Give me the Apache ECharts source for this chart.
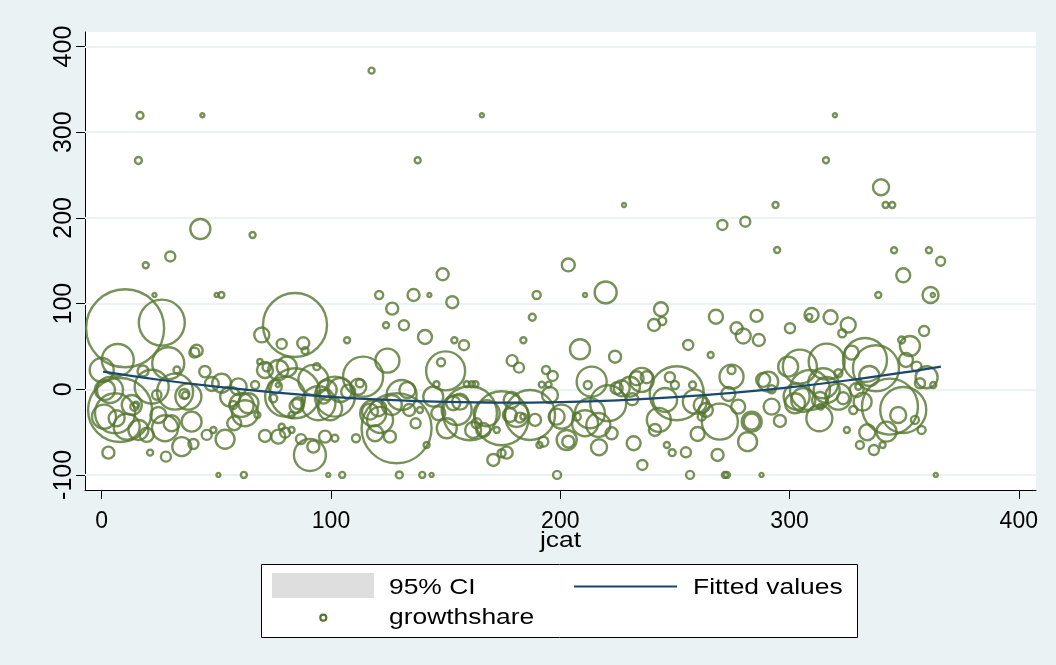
<!DOCTYPE html>
<html><head><meta charset="utf-8">
<script src="https://cdn.jsdelivr.net/npm/echarts@6/dist/echarts.min.js"></script>
<style>html,body{margin:0;padding:0;background:#eaf2f3}#c{width:1056px;height:665px}</style>
</head><body><div id="c"></div>
<script>
// ---- data ----
const jcat = [
16.7,43.9,16,43,65.8,19.2,29.9,23,50.1,52.2,
117.7,137.8,165.8,203.5,148.7,121,136,142.9,152.9,126.7,
189.7,187.8,124,131.8,141,107,153.8,158,183.9,179,
182,193.8,196.7,191.9,194.9,227.8,293.9,270.7,280.7,294.6,
210.8,219.8,243.9,244.5,240.9,267.9,285.6,276.9,279.8,286.6,
300.2,208.6,223.9,255.8,265.6,319.8,315.9,339.9,341.9,344.8,
345.6,360.8,365.9,349.6,338.7,361.5,362.5,309.6,308.6,317.9,
325.6,323,358.7,352.5,348.9,350.8,355.4,359.8,362.7,356.9,
10.2,26.2,84.3,69.8,78.5,87.9,88.7,41.4,40.4,7,
0,29,32.8,18,45,77,72,69,80.7,93.8,
92.3,48,52.3,59.6,66.9,75.6,84.3,80,94.5,74.8,
85,3.6,21.8,32,37.8,36,36.5,24,8,5.8,
13.1,14.2,15,1.4,1,6.5,10.9,16,19.6,24.7,
30.5,27.6,39.2,45.8,48.7,53.8,34.9,40,2.9,21.1,
28,50.9,62,56,61,64,57.4,62.5,57.8,67.9,
71.2,77,80,82.8,86.9,90.8,92.3,78.5,71.2,76.8,
85.7,82.8,114,124.6,150,148,146,159.2,161.4,163,
101.7,98.1,104,111.9,112.6,107.5,99.6,96.7,97.4,101.7,
110.9,128.6,118.4,121.4,117,120.6,119.2,125.7,126.5,130.8,
133.3,134.1,136.9,138.8,141.7,144.6,146.8,150.5,154.8,153.3,
156.3,160.6,162,166.4,163.5,174.4,167.9,172.3,178.8,181,
178,182.4,183.9,189,186.8,195.5,198.4,192.6,190.9,176.6,
174.4,170.8,198.6,98.8,104.9,129.8,139.8,143.9,213.7,212,
235.5,233.3,237.7,226.8,230.4,231.4,250.8,247.8,250,257.7,
245.7,243,241.3,258.7,261.7,263.5,261.7,269.6,274.7,274.7,
273.3,277.6,283.5,283.5,281.7,268.6,259.9,254.8,248.8,246.5,
232,235.8,256.6,271.8,272.7,287.8,200.6,202.8,203.5,210.8,
212.9,220.9,216.6,216.9,222.4,207.2,224.6,290.7,288.5,292.2,
295.8,292.2,299.4,316.2,332.9,337.7,327.1,334.8,321.3,304.5,
308.9,303.1,306,314.7,316.2,313.3,302.4,323.4,321.3,313,
313.6,329.3,331.9,327.8,330,343.8,349.6,347.4,354.7,357.6,
342.3,333.9,325,330.7,336.8,340.6,363.8
];
const growthshare = [
319.5,319.8,267,187,180,144.7,155,110,110,110,
371.9,267.3,319.8,145.1,134.2,110,110,110,101.6,94.1,
110,84,74.7,74.7,61,57.2,57.2,51.4,57.2,33.4,
25.2,22.5,15.5,5.4,5.4,215.1,215.1,191.8,195.6,162.6,
110,113,93.4,79.7,75,84.7,85.6,71.2,62.2,57.5,
71.2,46.7,38,51.7,40,319.8,267.3,235.8,215.1,215.1,
162.2,162.2,149.4,133,110,110,110,86.7,84.5,84,
75,65.4,68,50.5,57.5,34.2,26.4,14,5,7,
71.2,77.8,75,63.4,52.9,53.7,45,45,42.7,34.2,
22.5,30.3,22.5,21.4,20.5,22.5,25.7,32.2,26.4,26.4,
10.9,6.2,7,3,5,3,-4.7,-8.6,-16.3,-10.5,
-19.5,-0.8,3,-2.8,-8.6,-5.5,-7,-6.7,-24.2,-28,
-18.3,-20.3,-18,-0.8,-32,-33.9,-43.7,-47.5,-53.3,-30,
-39.7,-45.5,-37.8,-53.3,-47.5,-58.4,-67,-63.9,-74,-74,
-78.7,-100,-100,-8.6,-18.3,-16.3,-18.3,-28,-39.7,-30,
-54.5,-55.3,-50.7,-47.5,-58.2,-76.7,-67,-43.7,22.5,5,
-16.3,-30,14.7,33.4,21.4,31.5,5.8,5.8,5.8,5.8,
-8.6,-0.8,-0.8,3,7,-2.8,-22.2,-8.6,-55.3,-57.2,
-57.2,-45.5,-28,-35.8,-26.1,-22.2,-51.4,-55.3,-18.3,-6.7,
-0.8,-24.2,-39.7,-24.2,-65,-8.6,-28,-45.5,-24.2,-16.3,
-14.5,-28,-47.5,-47.5,-39.7,-33.9,-28,-47.5,-12.5,-30,
-30,-33.1,-32,-35.8,-30,-6.7,-32,-61.2,-65,-74,
-74.7,-82.5,-100,-100,-100,-100,-100,-100,8.9,5,
10.9,12.8,14,1.2,3,-11.7,-4.7,14,5,5,
-12.5,-35.8,-47.5,-14.5,-18.3,-24.2,-32,-37.8,14.7,22.5,
-5.5,-20.3,-37.8,-37.8,-61.2,-76.7,-52.2,-73.6,-74,-65,
-63,-88.4,-100,-100,-100,-100,-32,-59.2,-61.2,-39.7,
-28,-16.3,-41.7,-67.7,-51.4,-32,1.2,8.9,10.9,-20.3,
-37,0,26.4,32.2,34.2,24.5,42.7,15.5,18.7,26.4,
-0.8,-8.6,-12.5,7,-0.8,-12.5,-16.3,-10.5,-8.6,-33.9,
-20.3,-0.8,-14.5,-24.2,3,-20.3,-24.2,-30,-35.8,-47.5,
-49.5,-50.2,-47.5,-65,-70.9,-65,-100
];
const weight = [
12,4,12,100,9,9,25,4,4,9,
9,9,4,42,36,16,36,4,36,36,
16,12,9,25,49,9,9,25,9,30,
25,16,25,9,9,4,9,25,25,9,
4,121,49,16,36,49,36,36,56,36,
25,100,36,25,9,4,9,64,9,9,
9,9,20,49,9,64,4,49,9,49,
56,16,25,100,12,49,25,121,9,25,
1521,529,1024,56,25,36,12,36,25,256,
144,256,12,30,32,100,18,7,100,12,
225,49,90,69,16,45,625,400,289,16,
49,169,289,324,169,25,12,22,1024,400,
100,16,9,100,144,64,169,100,49,64,
64,169,100,25,9,90,90,25,36,9,
25,4,9,100,144,100,16,169,49,9,
36,49,25,9,25,256,36,9,64,4,
36,9,400,144,380,16,9,9,9,9,
400,100,144,64,16,49,144,49,36,12,
16,1225,169,169,64,64,64,36,100,225,
64,36,25,9,9,100,49,100,225,49,
64,729,64,49,25,729,169,9,64,144,
49,25,9,36,625,64,64,25,9,36,
16,36,16,4,9,12,9,4,225,16,
144,49,36,64,100,36,729,25,16,12,
144,144,36,144,64,49,16,324,144,16,
49,49,100,64,90,36,49,25,12,9,
49,25,16,9,9,4,144,100,36,169,
225,324,144,64,36,16,36,100,49,64,
36,16,100,324,484,529,49,100,16,289,
400,169,144,225,169,64,100,36,169,169,
9,49,81,16,9,784,529,64,16,16,
100,64,9,16,25,9,4
];
const fitX = [0.6,25,50,75,100,125,150,175,200,225,250,275,300,325,350,366];
const fitY = [20.6,11.1,3.0,-3.6,-8.8,-12.5,-14.8,-15.7,-15.0,-12.9,-9.3,-4.3,2.2,10.2,19.6,26.4];
const xTicks = [0,100,200,300,400];
const yTicks = [-100,0,100,200,300,400];
const xTitle = 'jcat';
const legendNames = ['95% CI','Fitted values','growthshare'];

// ---- styling ----
const GREEN = '#55752f', NAVY = '#1a476f', BG = '#eaf2f3';
const FONT = 'Liberation Sans, Arial, sans-serif';

const chart = echarts.init(document.getElementById('c'), null, {renderer:'canvas'});
const scatterData = jcat.map((x,i)=>[x, growthshare[i], weight[i]]);
const fitData = fitX.map((x,i)=>[x, fitY[i]]);

const option = {
  animation:false,
  backgroundColor: BG,
  grid:{left:85,right:20,top:32,bottom:175,show:true,backgroundColor:'#fff',borderWidth:0,containLabel:false},
  xAxis:{type:'value',min:-7.3,max:407.5,
    axisLine:{show:true,onZero:false,lineStyle:{color:'#000',width:1}},
    axisTick:{show:true,customValues:xTicks,length:9,lineStyle:{color:'#000'}},
    axisLabel:{show:true,customValues:xTicks,margin:20,fontSize:23,color:'#000',fontFamily:FONT},
    splitLine:{show:false}},
  yAxis:{type:'value',min:-117.6,max:417,
    axisLine:{show:true,onZero:false,lineStyle:{color:'#000',width:1}},
    axisTick:{show:true,customValues:yTicks,length:9,lineStyle:{color:'#000'}},
    axisLabel:{show:true,customValues:yTicks,rotate:90,margin:8,fontSize:25,color:'#000',fontFamily:FONT},
    splitLine:{show:false}},
  series:[
    {type:'scatter',name:legendNames[2],data:scatterData,z:2,clip:false,
      symbol:'circle',symbolSize:v=>2*Math.sqrt(v[2]),
      itemStyle:{color:'rgba(0,0,0,0)',borderColor:GREEN,borderWidth:2.4},
      emphasis:{disabled:true}},
    {type:'line',name:legendNames[1],data:fitData,z:3,smooth:0.4,showSymbol:false,symbol:'none',
      lineStyle:{color:NAVY,width:2.2},
      markLine:{silent:true,symbol:'none',z:1,label:{show:false},
        lineStyle:{color:BG,width:2,type:'solid'},
        data:yTicks.map(v=>({yAxis:v}))}}
  ],
  graphic:[
    {type:'rect',shape:{x:261.5,y:564.5,width:596,height:73},style:{fill:'#fff',stroke:'#000',lineWidth:1},z:10},
    {type:'rect',shape:{x:272,y:573,width:102,height:25},style:{fill:'#dedede'},z:11},
    {type:'text',x:389,y:588,scaleX:1.2,style:{text:legendNames[0],x:0,y:0,fontSize:22,fontFamily:FONT,fill:'#000',verticalAlign:'middle'},z:11},
    {type:'line',shape:{x1:574,y1:586.5,x2:677,y2:586.5},style:{stroke:NAVY,lineWidth:2},z:11},
    {type:'text',x:693,y:588,scaleX:1.2,style:{text:legendNames[1],x:0,y:0,fontSize:22,fontFamily:FONT,fill:'#000',verticalAlign:'middle'},z:11},
    {type:'circle',shape:{cx:323.3,cy:617.7,r:3},style:{fill:'none',stroke:GREEN,lineWidth:2.2},z:11},
    {type:'text',x:389,y:618,scaleX:1.2,style:{text:legendNames[2],x:0,y:0,fontSize:22,fontFamily:FONT,fill:'#000',verticalAlign:'middle'},z:11},
    {type:'text',x:560.5,y:541,scaleX:1.2,style:{text:xTitle,x:0,y:0,fontSize:22,fontFamily:FONT,fill:'#000',align:'center',verticalAlign:'middle'},z:11}
  ]
};
chart.setOption(option);
</script>
</body></html>
